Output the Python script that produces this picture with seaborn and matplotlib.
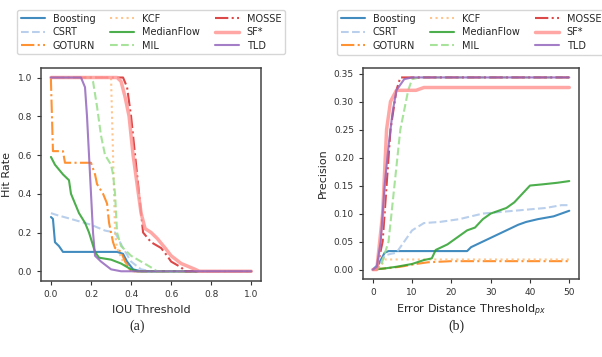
import numpy as np
import pandas as pd
import matplotlib
matplotlib.use('Agg')
import matplotlib.pyplot as plt
import seaborn as sns

# 跟踪器名称
trackers = ['Boosting', 'CSRT', 'GOTURN', 'KCF', 'MedianFlow', 'MIL', 'MOSSE', 'SF*', 'TLD']

# (a) IOU 阈值 - 命中率
iou_boosting_x = [0.0, 0.01, 0.02, 0.04, 0.06, 0.33, 0.36, 0.38, 0.41, 0.45, 1.0]
iou_boosting_y = [0.28, 0.27, 0.15, 0.13, 0.10, 0.10, 0.09, 0.05, 0.01, 0.0, 0.0]
iou_csrt_x = [0.0, 0.03, 0.10, 0.20, 0.27, 0.32, 0.36, 0.40, 0.45, 0.50, 1.0]
iou_csrt_y = [0.30, 0.29, 0.27, 0.24, 0.21, 0.20, 0.12, 0.05, 0.01, 0.0, 0.0]
iou_goturn_x = [0.0, 0.0, 0.01, 0.06, 0.07, 0.20, 0.22, 0.23, 0.26, 0.28, 0.29, 0.31, 0.32, 0.35, 0.37, 0.40, 1.0]
iou_goturn_y = [1.0, 0.98, 0.62, 0.62, 0.56, 0.56, 0.50, 0.45, 0.40, 0.35, 0.25, 0.15, 0.12, 0.10, 0.05, 0.0, 0.0]
iou_kcf_x = [0.0, 0.30, 0.31, 0.32, 0.33, 0.36, 0.40, 1.0]
iou_kcf_y = [1.0, 1.0, 0.60, 0.20, 0.12, 0.05, 0.0, 0.0]
iou_medianflow_x = [0.0, 0.02, 0.06, 0.09, 0.10, 0.14, 0.17, 0.19, 0.22, 0.24, 0.30, 0.35, 0.40, 0.43, 1.0]
iou_medianflow_y = [0.59, 0.55, 0.50, 0.47, 0.40, 0.30, 0.25, 0.20, 0.10, 0.07, 0.06, 0.04, 0.01, 0.0, 0.0]
iou_mil_x = [0.0, 0.20, 0.21, 0.23, 0.25, 0.27, 0.30, 0.31, 0.32, 0.33, 0.35, 0.40, 0.45, 0.50, 0.53, 1.0]
iou_mil_y = [1.0, 1.0, 0.98, 0.85, 0.70, 0.60, 0.55, 0.50, 0.40, 0.20, 0.13, 0.08, 0.05, 0.02, 0.0, 0.0]
iou_mosse_x = [0.0, 0.34, 0.36, 0.38, 0.40, 0.42, 0.44, 0.46, 0.50, 0.55, 0.58, 0.60, 0.65, 0.67, 1.0]
iou_mosse_y = [1.0, 1.0, 1.0, 0.95, 0.80, 0.60, 0.40, 0.20, 0.15, 0.12, 0.08, 0.05, 0.02, 0.0, 0.0]
iou_sf_x = [0.0, 0.33, 0.35, 0.37, 0.39, 0.41, 0.43, 0.45, 0.47, 0.50, 0.53, 0.57, 0.60, 0.65, 0.72, 0.74, 1.0]
iou_sf_y = [1.0, 1.0, 0.98, 0.90, 0.80, 0.60, 0.45, 0.30, 0.22, 0.20, 0.17, 0.12, 0.08, 0.04, 0.01, 0.0, 0.0]
iou_tld_x = [0.0, 0.15, 0.17, 0.18, 0.19, 0.20, 0.21, 0.22, 0.25, 0.30, 0.35, 1.0]
iou_tld_y = [1.0, 1.0, 0.95, 0.80, 0.60, 0.40, 0.20, 0.08, 0.05, 0.01, 0.0, 0.0]

# (b) 误差距离阈值 - 精确率
err_boosting_x = [0, 1.5, 3, 4, 24, 25, 28, 31, 34, 37, 39, 42, 46, 48, 50]
err_boosting_y = [0, 0.01, 0.03, 0.033, 0.033, 0.04, 0.05, 0.06, 0.07, 0.08, 0.085, 0.09, 0.095, 0.10, 0.105]
err_csrt_x = [0, 1.5, 3, 4.5, 6, 8, 10, 13, 17, 22, 28, 36, 44, 48, 50]
err_csrt_y = [0, 0.005, 0.025, 0.028, 0.03, 0.05, 0.07, 0.083, 0.085, 0.09, 0.10, 0.105, 0.11, 0.115, 0.115]
err_goturn_x = [0, 3, 7, 11, 14, 20, 50]
err_goturn_y = [0, 0.002, 0.005, 0.01, 0.013, 0.015, 0.015]
err_kcf_x = [0, 2, 3, 50]
err_kcf_y = [0, 0.005, 0.018, 0.018]
err_medianflow_x = [0, 3, 6, 10, 13, 15, 16, 19, 20, 22, 24, 26, 28, 30, 34, 36, 38, 40, 43, 47, 50]
err_medianflow_y = [0, 0.002, 0.005, 0.01, 0.017, 0.02, 0.035, 0.045, 0.05, 0.06, 0.07, 0.075, 0.09, 0.10, 0.11, 0.12, 0.135, 0.15, 0.152, 0.155, 0.158]
err_mil_x = [0, 2, 4, 5.5, 7, 9, 10, 12, 50]
err_mil_y = [0, 0.005, 0.05, 0.15, 0.25, 0.32, 0.34, 0.343, 0.343]
err_mosse_x = [0, 1, 2.5, 3.5, 4.5, 6, 7, 50]
err_mosse_y = [0, 0, 0.05, 0.15, 0.25, 0.32, 0.343, 0.343]
err_sf_x = [0, 1, 2.5, 3.5, 4.5, 6, 11, 13, 50]
err_sf_y = [0, 0, 0.10, 0.25, 0.30, 0.32, 0.32, 0.325, 0.325]
err_tld_x = [0, 1, 2, 3, 4, 5, 6, 8, 10, 50]
err_tld_y = [0, 0.005, 0.05, 0.15, 0.22, 0.28, 0.32, 0.34, 0.343, 0.343]

iou_data = [(iou_boosting_x, iou_boosting_y), (iou_csrt_x, iou_csrt_y), (iou_goturn_x, iou_goturn_y),
            (iou_kcf_x, iou_kcf_y), (iou_medianflow_x, iou_medianflow_y), (iou_mil_x, iou_mil_y),
            (iou_mosse_x, iou_mosse_y), (iou_sf_x, iou_sf_y), (iou_tld_x, iou_tld_y)]
err_data = [(err_boosting_x, err_boosting_y), (err_csrt_x, err_csrt_y), (err_goturn_x, err_goturn_y),
            (err_kcf_x, err_kcf_y), (err_medianflow_x, err_medianflow_y), (err_mil_x, err_mil_y),
            (err_mosse_x, err_mosse_y), (err_sf_x, err_sf_y), (err_tld_x, err_tld_y)]

# 样式设置
pal = sns.color_palette('tab20', 20)
colors = [pal[0], pal[1], pal[2], pal[3], pal[4], pal[5], pal[6], pal[7], pal[8]]
styles = ['-', '--', '-.', ':', '-', '--', '-.', '-', '-']
widths = [1.5, 1.5, 1.5, 1.5, 1.5, 1.5, 1.5, 2.5, 1.5]

sns.set_style('ticks')
plt.rcParams['font.family'] = ['DejaVu Sans']
plt.rcParams['axes.edgecolor'] = '#444444'
plt.rcParams['axes.linewidth'] = 1.1

fig = plt.figure(figsize=(6.02, 3.57), dpi=100)
ax1 = fig.add_axes([0.068, 0.213, 0.366, 0.597])
ax2 = fig.add_axes([0.603, 0.218, 0.359, 0.592])


def draw(ax, data, xlabel, ylabel):
    for name, (x, y), c, ls, lw in zip(trackers, data, colors, styles, widths):
        df = pd.DataFrame({'x': x, 'y': y})
        sns.lineplot(data=df, x='x', y='y', ax=ax, color=c, linestyle=ls, linewidth=lw,
                     estimator=None, sort=False, label=name, alpha=0.85)
    ax.set_xlabel(xlabel, fontsize=8)
    ax.set_ylabel(ylabel, fontsize=8)
    ax.tick_params(labelsize=6.5, length=3, colors='#333333')
    ax.legend(ncol=3, loc='lower center', bbox_to_anchor=(0.5, 1.04), fontsize=7,
              frameon=True, handlelength=2.5, columnspacing=1.5, borderpad=0.4,
              labelspacing=0.35)


draw(ax1, iou_data, 'IOU Threshold', 'Hit Rate')
draw(ax2, err_data, 'Error Distance Threshold$_{px}$', 'Precision')

fig.text(0.228, 0.075, '(a)', family='Liberation Serif', fontsize=10, ha='center')
fig.text(0.758, 0.075, '(b)', family='Liberation Serif', fontsize=10, ha='center')

plt.savefig('out.png', dpi=100)
